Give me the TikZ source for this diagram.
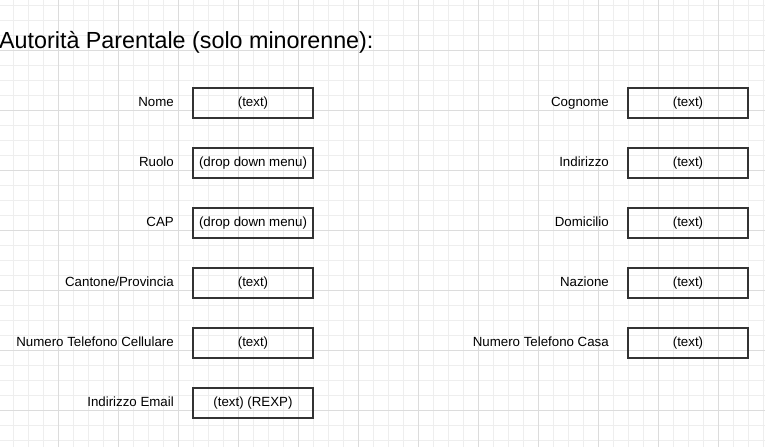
\documentclass[tikz,border=0pt]{standalone}
\usepackage{fontspec}
\setmainfont{Liberation Sans}
\begin{document}
\definecolor{gridminor}{HTML}{EEEEEE}
\definecolor{gridmajor}{HTML}{DCDCDC}
\definecolor{boxline}{HTML}{333333}
\tikzset{
  field/.style={draw=boxline, line width=1.6pt, minimum width=120pt, minimum height=30pt,
    inner sep=0pt, font=\fontsize{13.3}{15}\selectfont, text=black},
  caption/.style={anchor=base east, inner sep=0pt, font=\fontsize{13.3}{15}\selectfont, text=black},
}
\begin{tikzpicture}[x=1pt, y=-1pt]
  \useasboundingbox (0,0) rectangle (765,447);
  % background grid: minor every 15, major every 60
  \foreach \gx in {-2,13,...,765} \draw[gridminor, line width=0.9pt] (\gx,0) -- (\gx,447);
  \foreach \gy in {5,20,...,447} \draw[gridminor, line width=0.9pt] (0,\gy) -- (765,\gy);
  \foreach \gx in {-2,58,...,765} \draw[gridmajor, line width=0.9pt] (\gx,0) -- (\gx,447);
  \foreach \gy in {50,110,...,447} \draw[gridmajor, line width=0.9pt] (0,\gy) -- (765,\gy);

  % heading
  \node[anchor=base west, inner sep=0pt, font=\fontsize{23.3}{27}\selectfont] (title) at (-1,48) {Autorità Parentale (solo minorenne):};

  % left column
  \node[field] (nome) at (253,103) {(text)};
  \node[caption] (lnome) at (174,106.5) {Nome};
  \node[field] (ruolo) at (253,163) {(drop down menu)};
  \node[caption] (lruolo) at (174,166.5) {Ruolo};
  \node[field] (cap) at (253,223) {(drop down menu)};
  \node[caption] (lcap) at (174,226.5) {CAP};
  \node[field] (cantone) at (253,283) {(text)};
  \node[caption] (lcantone) at (174,286.5) {Cantone/Provincia};
  \node[field] (cell) at (253,343) {(text)};
  \node[caption] (lcell) at (174,346.5) {Numero Telefono Cellulare};
  \node[field] (email) at (253,403) {(text) (REXP)};
  \node[caption] (lemail) at (174,406.5) {Indirizzo Email};

  % right column
  \node[field] (cognome) at (688,103) {(text)};
  \node[caption] (lcognome) at (609,106.5) {Cognome};
  \node[field] (indirizzo) at (688,163) {(text)};
  \node[caption] (lindirizzo) at (609,166.5) {Indirizzo};
  \node[field] (domicilio) at (688,223) {(text)};
  \node[caption] (ldomicilio) at (609,226.5) {Domicilio};
  \node[field] (nazione) at (688,283) {(text)};
  \node[caption] (lnazione) at (609,286.5) {Nazione};
  \node[field] (casa) at (688,343) {(text)};
  \node[caption] (lcasa) at (609,346.5) {Numero Telefono Casa};
\end{tikzpicture}
\end{document}
